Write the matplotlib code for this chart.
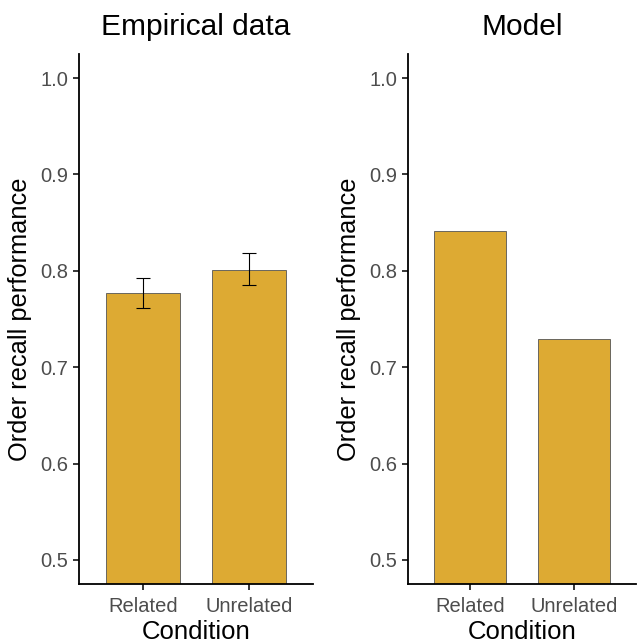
import matplotlib
matplotlib.use("Agg")
import matplotlib.pyplot as plt
import numpy as np

plt.rcParams['font.family'] = ['Liberation Sans', 'DejaVu Sans']

conditions = ["Related", "Unrelated"]
empirical_means = [0.777, 0.801]
empirical_lower = [0.761, 0.785]
empirical_upper = [0.793, 0.818]
model_means = [0.841, 0.729]
yticks = [0.5, 0.6, 0.7, 0.8, 0.9, 1.0]
titles = ["Empirical data", "Model"]

bar_color = "#DDAA33"
edge_color = "#555555"

fig = plt.figure(figsize=(6.38, 6.44), dpi=100)
W, H = 638, 644
ax1 = fig.add_axes([79/W, 1-584/H, (313-79)/W, (584-54)/H])
ax2 = fig.add_axes([408/W, 1-584/H, (636-408)/W, (584-54)/H])

x = np.arange(1, len(conditions) + 1)
for ax, means, title in [(ax1, empirical_means, titles[0]), (ax2, model_means, titles[1])]:
    ax.bar(x, np.array(means) - 0.4, bottom=0.4, width=0.7, color=bar_color,
           edgecolor=edge_color, linewidth=0.6, zorder=2)
    ax.set_xlim(0.4, 2.6)
    ax.set_ylim(0.475, 1.025)
    ax.set_yticks(yticks)
    ax.set_yticklabels([f"{v:.1f}" for v in yticks])
    ax.set_xticks(x)
    ax.set_xticklabels(conditions)
    for s in ["top", "right"]:
        ax.spines[s].set_visible(False)
    for s in ["left", "bottom"]:
        ax.spines[s].set_linewidth(1.3)
        ax.spines[s].set_color("black")
    ax.tick_params(axis="both", colors="#4D4D4D", labelsize=14.5, length=4, width=1.1)
    ax.tick_params(axis="both", color="black")
    ax.tick_params(axis="x", pad=5)
    ax.set_xlabel("Condition", fontsize=18.5, labelpad=3)
    ax.set_ylabel("Order recall performance", fontsize=18.3, labelpad=6)
    ax.set_title(title, fontsize=21.5, pad=14)

means = np.array(empirical_means)
yerr = [means - np.array(empirical_lower), np.array(empirical_upper) - means]
ax1.errorbar(x, means, yerr=yerr, fmt="none", ecolor="black", elinewidth=0.8,
             capsize=5, capthick=0.8, zorder=3)

fig.savefig("out.png", dpi=100)
